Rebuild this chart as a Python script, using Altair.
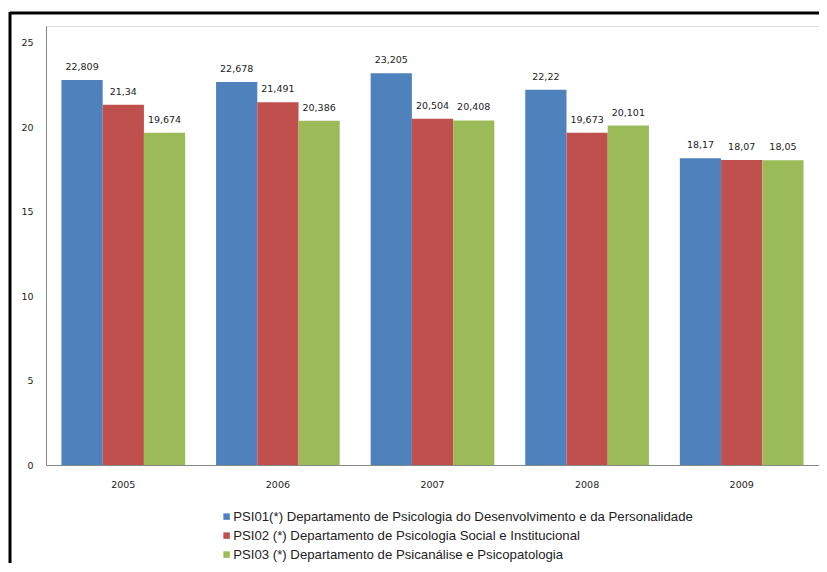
import altair as alt
import pandas as pd

years = ["2005", "2006", "2007", "2008", "2009"]
series = [
    "PSI01(*) Departamento de Psicologia do Desenvolvimento e da Personalidade",
    "PSI02 (*) Departamento de Psicologia Social e Institucional",
    "PSI03 (*) Departamento de Psicanálise e Psicopatologia",
]
psi01 = [22.809, 22.678, 23.205, 22.22, 18.17]
psi02 = [21.34, 21.491, 20.504, 19.673, 18.07]
psi03 = [19.674, 20.386, 20.408, 20.101, 18.05]
colors = ["#4F81BD", "#C0504D", "#9BBB59"]

rows = []
for s, vals in zip(series, [psi01, psi02, psi03]):
    for y, v in zip(years, vals):
        rows.append({"ano": y, "serie": s, "valor": v,
                     "rotulo": f"{v:g}".replace(".", ",")})
df = pd.DataFrame(rows)

W, H = 773, 439

base = alt.Chart(df).encode(
    x=alt.X("ano:N", scale=alt.Scale(paddingInner=0.2, paddingOuter=0.1),
            axis=alt.Axis(title=None, labelAngle=0, ticks=False, domainColor="#868686",
                          labelFont="DejaVu Sans", labelFontSize=9.5, labelColor="#222",
                          labelPadding=14)),
    xOffset=alt.XOffset("serie:N", sort=series),
)

bars = base.mark_bar(strokeWidth=0).encode(
    y=alt.Y("valor:Q", scale=alt.Scale(domain=[0, 25]),
            axis=alt.Axis(title=None, values=[0, 5, 10, 15, 20, 25], grid=False, ticks=False,
                          domainColor="#868686", labelFont="DejaVu Sans", labelFontSize=9.5,
                          labelColor="#222", labelPadding=13)),
    color=alt.Color("serie:N", sort=series,
                    scale=alt.Scale(domain=series, range=colors),
                    legend=alt.Legend(title=None, orient="none", legendX=174, legendY=484,
                                      symbolType="square", symbolSize=42, symbolStrokeWidth=0,
                                      labelFont="Liberation Sans", labelFontSize=13.2,
                                      labelColor="#222", labelLimit=800, rowPadding=5,
                                      labelOffset=0, symbolOffset=0)),
)

labels = base.mark_text(dy=-8, font="DejaVu Sans", fontSize=9.5, color="#222",
                        baseline="bottom").encode(
    y=alt.Y("valor:Q"),
    text="rotulo:N",
)

border_top = alt.Chart(pd.DataFrame({"a": [0]})).mark_rule(color="black", strokeWidth=3).encode(
    x=alt.value(-36), x2=alt.value(790), y=alt.value(-13))
border_left = alt.Chart(pd.DataFrame({"a": [0]})).mark_rule(color="black", strokeWidth=3).encode(
    x=alt.value(-36), y=alt.value(-14), y2=alt.value(560))

chart = alt.layer(bars, labels, border_top, border_left).properties(
    width=W, height=H,
    autosize=alt.AutoSizeParams(type="none"),
    padding={"left": 38, "top": 18, "right": 0, "bottom": 98},
).configure_view(strokeWidth=0).configure_legend(symbolSize=42).configure(background="white")

chart.save("out.html", embed_options={"renderer": "svg", "actions": False})
